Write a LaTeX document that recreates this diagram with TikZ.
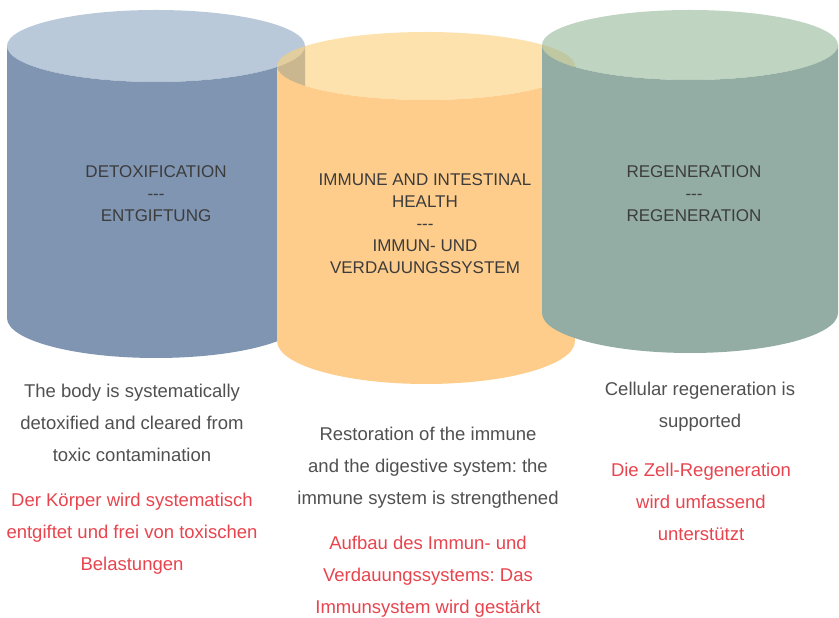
\documentclass[tikz,border=0pt]{standalone}
\usepackage{fontspec}
\setmainfont{Liberation Sans}
\frenchspacing
\definecolor{bodyL}{RGB}{127,149,178}
\definecolor{topL}{RGB}{140,165,192}
\definecolor{bodyM}{RGB}{254,205,139}
\definecolor{topM}{RGB}{253,207,120}
\definecolor{bodyR}{RGB}{147,173,165}
\definecolor{topR}{RGB}{150,183,153}
\definecolor{titlegray}{RGB}{60,60,60}
\definecolor{textgray}{RGB}{80,80,80}
\definecolor{redtext}{RGB}{232,68,78}
\newcommand{\tridash}{-{}-{}-}
\tikzset{
  cylbody/.style={draw=none},
  cyltop/.style={draw=none, fill opacity=0.6},
  titletext/.style={align=center, text=titlegray, font=\fontsize{17}{22}\selectfont, inner sep=0pt},
  entext/.style={align=center, text=textgray, font=\fontsize{18.5}{32}\selectfont, inner sep=0pt},
  detext/.style={align=center, text=redtext, font=\fontsize{18.5}{32}\selectfont, inner sep=0pt}
}
\begin{document}
\begin{tikzpicture}[x=1pt,y=1pt]
\useasboundingbox (0,0) rectangle (839,618);
% left cylinder
\fill[cylbody, bodyL] (7,572) -- (7,300) arc[start angle=180, end angle=360, x radius=149pt, y radius=40pt] -- (305,572) arc[start angle=0, end angle=-180, x radius=149pt, y radius=36pt] -- cycle;
\fill[cyltop, topL] (156,572) ellipse[x radius=149pt, y radius=36pt];
% middle cylinder
\fill[cylbody, bodyM] (277,552) -- (277,277) arc[start angle=180, end angle=360, x radius=149pt, y radius=43pt] -- (575,552) arc[start angle=0, end angle=-180, x radius=149pt, y radius=34pt] -- cycle;
\fill[cyltop, topM] (426,552) ellipse[x radius=149pt, y radius=34pt];
% right cylinder
\fill[cylbody, bodyR] (542,573) -- (542,305) arc[start angle=180, end angle=360, x radius=148pt, y radius=40pt] -- (838,573) arc[start angle=0, end angle=-180, x radius=148pt, y radius=35pt] -- cycle;
\fill[cyltop, topR] (690,573) ellipse[x radius=148pt, y radius=35pt];
% titles
\node[titletext] (t1) at (156,424) {DETOXIFICATION\\\tridash\\ENTGIFTUNG};
\node[titletext] (t2) at (425,394) {IMMUNE AND INTESTINAL\\HEALTH\\\tridash\\IMMUN- UND\\VERDAUUNGSSYSTEM};
\node[titletext] (t3) at (694,424) {REGENERATION\\\tridash\\REGENERATION};
% descriptions
\node[entext] (e1) at (132,195) {The body is systematically\\detoxified and cleared from\\toxic contamination};
\node[detext] (d1) at (132,84) {Der Körper wird systematisch\\entgiftet und frei von toxischen\\Belastungen};
\node[entext] (e2) at (428,150) {Restoration of the immune\\and the digestive system: the\\immune system is strengthened};
\node[detext] (d2) at (428,41) {Aufbau des Immun- und\\Verdauungssystems: Das\\Immunsystem wird gestärkt};
\node[entext] (e3) at (700,211) {Cellular regeneration is\\supported};
\node[detext] (d3) at (701,116) {Die Zell-Regeneration\\wird umfassend\\unterstützt};
\end{tikzpicture}
\end{document}
